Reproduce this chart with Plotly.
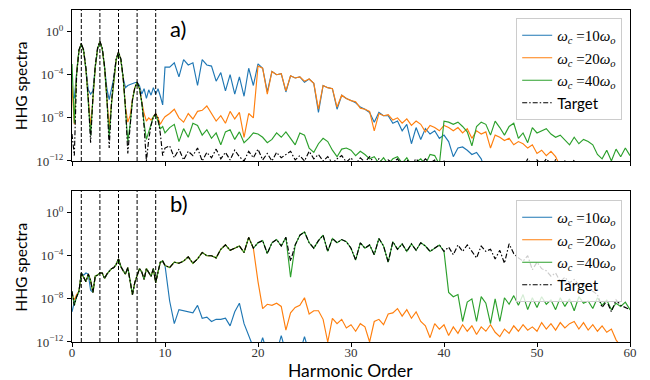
import numpy as np
import plotly.graph_objects as go
from plotly.subplots import make_subplots

# ---------------- harmonic-order sample grid ----------------
harm_fine = np.arange(0, 10.001, 0.25)      # 41 samples, 0 .. 10
harm_coarse = np.arange(10.5, 60.001, 0.5)  # 100 samples, 10.5 .. 60
harmonics = np.concatenate([harm_fine, harm_coarse])

# ---------------- panel a) : log10 of spectrum ----------------
a_w10_lo = [-6.0, -6.2, -3.8, -1.75, -1.1, -1.8, -3.5, -5.4, -5.8, -5.5,
            -3.3, -1.6, -0.9, -1.6, -3.3, -5.3, -6.3, -5.2, -4.3, -2.6,
            -1.9, -2.6, -4.3, -5.2, -5.0, -4.9, -4.8, -4.75, -4.7, -5.0,
            -5.8, -5.3, -6.2, -5.4, -5.9, -5.2, -5.8, -5.3, -6.0, -6.8,
            -3.3]
a_w10_hi = [-3.3, -2.9, -4.2, -2.6, -3.1, -2.9, -5.0, -2.6, -3.1, -3.2,
            -4.6, -3.8, -5.5, -4.0, -5.8, -4.2, -6.0, -3.4, -5.0, -3.0,
            -3.4, -5.6, -3.7, -4.0, -3.9, -5.6, -4.1, -4.3, -4.2, -4.7,
            -4.4, -4.8, -7.5, -5.0, -5.2, -5.3, -7.2, -5.9, -6.2, -6.4,
            -6.6, -7.0, -7.2, -7.5, -8.4, -7.5, -7.8, -7.8, -8.5, -8.3,
            -9.2, -8.6, -10.4, -8.9, -10.0, -9.0, -9.5, -9.2, -9.9, -9.6,
            -10.2, -11.6, -10.8, -10.7, -11.0, -11.4, -11.2, -11.8, -13, -13,
            -13, -13, -13, -13, -13, -13, -13, -13, -13, -13,
            -13, -13, -13, -13, -13, -13, -13, -13, -13, -13,
            -13, -13, -13, -13, -13, -13, -13, -13, -13, -13]

a_w20_lo = [-5.0, -8.6, -3.8, -1.75, -1.12, -1.8, -3.5, -6.5, -8.8, -6.3,
            -3.3, -1.6, -0.92, -1.6, -3.3, -6.2, -8.9, -6.6, -4.3, -2.6,
            -1.92, -2.6, -4.3, -7.0, -8.4, -7.8, -6.3, -5.2, -4.72, -5.3,
            -6.5, -7.6, -8.3, -8.0, -8.2, -7.9, -7.6, -8.0, -8.6, -8.2,
            -7.9]
a_w20_hi = [-7.6, -7.2, -8.0, -8.4, -7.6, -8.1, -7.4, -7.3, -6.9, -7.6,
            -8.3, -7.8, -8.5, -7.4, -8.1, -7.5, -9.8, -7.6, -8.0, -3.2,
            -3.4, -5.8, -3.7, -4.0, -3.9, -5.5, -4.1, -4.3, -4.2, -4.6,
            -4.4, -4.8, -7.2, -5.0, -5.2, -5.3, -7.0, -5.9, -6.2, -6.4,
            -6.5, -7.1, -7.2, -7.4, -9.2, -7.6, -7.8, -7.7, -8.2, -8.0,
            -8.5, -8.1, -8.7, -8.3, -8.6, -9.3, -8.7, -8.9, -9.2, -8.7,
            -8.9, -9.2, -8.9, -9.4, -9.0, -9.9, -9.2, -9.5, -9.3, -10.8,
            -9.6, -9.8, -10.1, -9.9, -10.5, -10.2, -10.4, -10.8, -10.5, -11.3,
            -11.0, -11.5, -11.1, -11.6, -12.5, -13, -13, -13, -13, -13,
            -13, -13, -13, -13, -13, -13, -13, -13, -13, -13]

a_w40_lo = [-3.0, -8.5, -3.8, -1.75, -1.15, -1.8, -3.5, -6.5, -9.6, -6.2,
            -3.3, -1.6, -0.95, -1.6, -3.3, -6.3, -9.8, -6.7, -4.3, -2.6,
            -1.95, -2.6, -4.3, -7.2, -10.2, -8.6, -6.4, -5.25, -4.75, -5.3,
            -6.6, -8.5, -10.0, -9.3, -8.6, -7.9, -7.7, -8.3, -9.0, -8.8,
            -9.4]
a_w40_hi = [-8.9, -8.6, -10.2, -9.0, -9.8, -8.5, -8.7, -9.6, -9.1, -9.9,
            -9.4, -10.5, -9.3, -9.1, -10.0, -9.3, -10.3, -9.9, -9.4, -9.5,
            -9.8, -10.3, -10.0, -9.4, -9.8, -9.3, -9.9, -10.5, -9.4, -9.6,
            -10.8, -11.2, -10.4, -9.9, -10.2, -11.0, -11.6, -10.9, -10.8, -11.0,
            -11.5, -11.1, -11.4, -11.8, -11.6, -12.2, -11.7, -12.3, -11.8, -11.6,
            -12.2, -11.7, -12.4, -12.1, -11.8, -12.3, -11.4, -11.5, -12.3, -8.3,
            -8.4, -8.6, -8.4, -8.8, -9.3, -10.6, -8.8, -8.4, -8.6, -9.6,
            -8.3, -8.9, -9.6, -8.8, -8.5, -9.9, -9.4, -10.3, -8.9, -9.4,
            -9.2, -9.0, -9.5, -9.8, -9.6, -10.1, -10.5, -9.8, -10.4, -10.0,
            -10.2, -10.5, -11.4, -11.8, -11.0, -12.0, -10.9, -11.6, -10.8, -11.5]

a_target_lo = [-9.5, -11.5, -4.0, -1.7, -1.1, -1.7, -3.4, -6.2, -10.3, -6.0,
               -3.2, -1.5, -0.9, -1.5, -3.2, -6.0, -10.8, -6.5, -4.2, -2.5,
               -1.9, -2.5, -4.2, -7.0, -11.3, -8.5, -6.3, -5.2, -4.7, -5.2,
               -6.5, -8.8, -12.0, -10.0, -8.7, -7.9, -7.6, -8.0, -9.5, -11.5,
               -10.8]
a_target_hi = [-10.6, -11.7, -10.9, -11.9, -11.1, -11.5, -10.8, -12.0, -11.2, -11.7,
               -10.9, -11.8, -11.2, -11.9, -11.0, -11.6, -12.0, -11.1, -11.7, -10.9,
               -11.9, -11.3, -12.0, -11.2, -11.7, -11.4, -11.1, -11.9, -11.5, -12.0,
               -11.1, -11.8, -11.4, -12.0, -11.6, -12.2, -11.8, -11.5, -12.1, -11.7,
               -12.3, -11.7, -12.1, -11.6, -12.2, -11.8, -12.3, -11.9, -12.2, -11.8,
               -12.4, -11.9, -12.3, -11.8, -12.3, -11.8, -12.2, -11.9, -12.4, -12.0,
               -12.5, -12.1, -12.5, -12.2, -12.6, -12.3, -12.6, -12.4, -12.6, -12.2,
               -12.6, -12.3, -12.7, -12.2, -12.6, -12.4, -12.7, -11.8, -12.5, -11.9,
               -12.4, -11.8, -12.3, -11.9, -12.5, -12.0, -12.6, -11.9, -12.6, -12.2,
               -12.7, -12.4, -12.8, -12.5, -12.8, -12.6, -12.9, -12.7, -12.9, -12.8]

# ---------------- panel b) : log10 of spectrum ----------------
b_w10_lo = [-9.2, -8.3, -7.8, -7.3, -5.6, -5.8, -5.6, -5.7, -7.2, -7.4,
            -5.9, -5.8, -5.6, -5.6, -6.1, -5.7, -5.4, -5.2, -5.1, -4.8,
            -4.3, -5.0, -5.4, -5.7, -5.1, -6.3, -7.6, -6.5, -5.8, -5.2,
            -5.5, -6.2, -5.2, -5.6, -5.9, -5.2, -6.5, -5.5, -4.6, -4.5,
            -4.9]
b_w10_hi = [-8.2, -10.3, -9.0, -9.1, -9.2, -9.3, -8.6, -9.8, -9.7, -10.1,
            -9.9, -9.9, -9.8, -10.5, -9.2, -8.4, -10.3, -11.3, -12.5, -13,
            -11.6, -13, -13, -13, -11.4, -13, -13, -13, -13, -11.5,
            -13, -13, -13, -13, -13, -13, -13, -13, -13, -13,
            -13, -13, -13, -13, -13, -13, -13, -13, -13, -13,
            -13, -13, -13, -13, -13, -13, -13, -13, -13, -13,
            -13, -13, -13, -13, -13, -13, -13, -13, -13, -13,
            -13, -13, -13, -13, -13, -13, -13, -13, -13, -13,
            -13, -13, -13, -13, -13, -13, -13, -13, -13, -13,
            -13, -13, -13, -13, -13, -13, -13, -13, -13, -13]

b_w20_lo = [-7.6, -8.1, -7.6, -7.3, -5.6, -6.0, -6.4, -5.7, -6.3, -7.4,
            -5.9, -5.8, -5.6, -5.6, -6.1, -5.7, -5.4, -5.2, -5.1, -4.8,
            -4.3, -5.0, -5.4, -5.7, -5.1, -6.3, -7.6, -6.5, -5.8, -5.2,
            -5.5, -6.2, -5.2, -5.6, -5.9, -5.2, -6.5, -5.5, -4.6, -4.5,
            -4.9]
b_w20_hi = [-5.1, -4.6, -4.7, -4.5, -4.1, -4.7, -4.3, -3.7, -4.0, -4.0,
            -4.2, -3.4, -3.0, -3.5, -3.3, -3.1, -3.7, -2.3, -3.3, -6.4,
            -8.9, -8.5, -8.6, -8.4, -8.7, -10.9, -9.3, -8.8, -8.6, -7.9,
            -9.4, -9.1, -9.1, -9.9, -12.0, -9.8, -10.3, -9.9, -10.7, -10.4,
            -11.0, -10.3, -10.6, -12.0, -10.1, -9.9, -10.4, -9.4, -9.3, -8.9,
            -9.6, -9.0, -9.8, -9.2, -10.1, -10.5, -11.6, -10.3, -10.8, -10.4,
            -11.4, -10.6, -11.2, -10.4, -11.0, -10.5, -11.3, -10.6, -11.0, -10.4,
            -11.1, -11.5, -10.8, -11.2, -10.5, -11.0, -10.4, -10.9, -10.6, -11.0,
            -10.2, -10.8, -10.3, -10.9, -10.2, -10.7, -10.3, -10.1, -10.8, -10.2,
            -10.9, -10.4, -11.0, -10.5, -11.1, -10.8, -11.8, -12.5, -13, -13]

b_w40_lo = [-7.3, -8.6, -7.8, -7.3, -5.6, -6.0, -6.4, -5.7, -6.3, -7.4,
            -5.9, -5.8, -5.6, -5.6, -6.1, -5.7, -5.4, -5.2, -5.1, -4.8,
            -4.3, -5.0, -5.4, -5.7, -5.1, -6.3, -7.6, -6.5, -5.8, -5.2,
            -5.5, -6.2, -5.2, -5.6, -5.9, -5.2, -6.5, -5.5, -4.6, -4.5,
            -4.9]
b_w40_hi = [-5.1, -4.6, -4.7, -4.5, -4.1, -4.7, -4.3, -3.7, -4.0, -4.0,
            -4.2, -3.4, -3.0, -3.5, -3.3, -3.1, -3.7, -2.3, -3.3, -2.8,
            -2.6, -3.8, -2.8, -2.5, -3.1, -2.3, -6.0, -3.0, -2.1, -1.8,
            -2.8, -3.3, -2.6, -2.1, -3.6, -2.4, -2.8, -2.5, -2.7, -3.3,
            -4.4, -2.8, -3.3, -3.0, -3.9, -2.4, -3.1, -4.6, -2.7, -3.4,
            -2.9, -3.6, -2.9, -3.5, -2.8, -3.1, -3.6, -3.3, -3.0, -3.6,
            -7.4, -7.8, -7.6, -10.1, -8.3, -8.0, -10.1, -7.8, -8.4, -10.3,
            -8.0, -10.1, -7.9, -8.5, -7.7, -8.6, -7.6, -9.0, -7.9, -8.8,
            -7.8, -8.5, -8.1, -9.0, -7.9, -8.7, -8.0, -9.1, -7.8, -8.4,
            -8.2, -8.9, -7.9, -8.6, -8.1, -9.0, -8.4, -8.7, -8.3, -9.0]

b_target_lo = [-7.3, -8.6, -7.8, -7.3, -5.6, -6.0, -6.4, -5.7, -6.3, -7.4,
               -5.9, -5.8, -5.6, -5.6, -6.1, -5.7, -5.4, -5.2, -5.1, -4.8,
               -4.3, -5.0, -5.4, -5.7, -5.1, -6.3, -7.6, -6.5, -5.8, -5.2,
               -5.5, -6.2, -5.2, -5.6, -5.9, -5.2, -6.5, -5.5, -4.6, -4.5,
               -4.9]
b_target_hi = [-5.1, -4.6, -4.7, -4.5, -4.1, -4.7, -4.3, -3.7, -4.0, -4.0,
               -4.2, -3.4, -3.0, -3.5, -3.3, -3.1, -3.7, -2.3, -3.3, -2.8,
               -2.6, -3.8, -2.8, -2.5, -3.1, -2.3, -4.5, -3.0, -2.1, -1.8,
               -2.8, -3.3, -2.6, -2.1, -3.6, -2.4, -2.8, -2.5, -2.7, -3.3,
               -4.4, -2.8, -3.3, -3.0, -3.9, -2.4, -3.1, -4.6, -2.7, -3.4,
               -2.9, -3.6, -2.9, -3.5, -2.8, -3.1, -3.6, -3.3, -3.0, -3.6,
               -3.2, -3.9, -3.0, -3.6, -3.0, -3.6, -4.2, -3.1, -3.6, -3.4,
               -4.3, -3.5, -4.7, -2.9, -3.8, -4.2, -4.5, -4.0, -5.3, -4.6,
               -5.2, -5.4, -5.9, -5.6, -6.4, -6.0, -6.5, -6.2, -6.7, -6.6,
               -7.2, -7.3, -7.6, -8.8, -8.2, -9.2, -8.1, -8.6, -8.8, -9.0]

harmonic_markers = [1, 3, 5, 7, 9]
series_names = ["w10", "w20", "w40", "target"]
MATH = "font-family:'Liberation Serif','DejaVu Serif',serif"
def wc_label(n):
    return (f"<span style=\"{MATH}\"><i>ω</i><sub><i>c</i></sub> ={n}"
            f"<i>ω</i><sub><i>o</i></sub></span>")
labels = {"w10": wc_label(10), "w20": wc_label(20), "w40": wc_label(40), "target": "Target"}
colors = {"w10": "#1f77b4", "w20": "#ff7f0e", "w40": "#2ca02c", "target": "black"}

panel_a = {"w10": (a_w10_lo, a_w10_hi), "w20": (a_w20_lo, a_w20_hi),
           "w40": (a_w40_lo, a_w40_hi), "target": (a_target_lo, a_target_hi)}
panel_b = {"w10": (b_w10_lo, b_w10_hi), "w20": (b_w20_lo, b_w20_hi),
           "w40": (b_w40_lo, b_w40_hi), "target": (b_target_lo, b_target_hi)}

fig = make_subplots(rows=2, cols=1)

for row, panel, leg in [(1, panel_a, "legend"), (2, panel_b, "legend2")]:
    for name in series_names:
        lo, hi = panel[name]
        logv = np.array(list(lo) + list(hi), dtype=float)
        line = dict(color=colors[name], width=1.15)
        if name == "target":
            line["dash"] = "5px,2px,1.5px,2px"
        fig.add_trace(go.Scatter(x=harmonics, y=10 ** logv, mode="lines",
                                 line=line, name=labels[name], legend=leg),
                      row=row, col=1)

SERIF = "Liberation Serif, DejaVu Serif, serif"
SANS = "Lato, Liberation Sans, sans-serif"

ytv = [1e-12, 1e-8, 1e-4, 1]
ytt = ["10<sup>−12</sup>", "10<sup>−8</sup>", "10<sup>−4</sup>", "10<sup>0</sup>"]

for r, dom in [(1, [0.5452, 1.0]), (2, [0.0, 0.4548])]:
    fig.update_yaxes(type="log", range=[-12, 2], domain=dom, tickvals=ytv, ticktext=ytt,
                     ticks="outside", ticklen=4, tickcolor="black", showline=True,
                     linecolor="black", linewidth=1, mirror=True, showgrid=False,
                     zeroline=False, automargin=False, ticklabelstandoff=1,
                     tickfont=dict(family=SERIF, size=13, color="#333"),
                     row=r, col=1)
    fig.update_xaxes(range=[0, 60], dtick=10, tick0=0, ticks="outside", ticklen=4,
                     tickcolor="black", showline=True, linecolor="black", linewidth=1,
                     mirror=True, showgrid=False, zeroline=False, automargin=False,
                     ticklabelstandoff=-6,
                     tickfont=dict(family=SERIF, size=13, color="#333"),
                     showticklabels=(r == 2), row=r, col=1)

for xr, yr in [("x", "y domain"), ("x2", "y2 domain")]:
    for h in harmonic_markers:
        fig.add_shape(type="line", xref=xr, yref=yr, x0=h, x1=h, y0=0, y1=1,
                      line=dict(color="black", width=1, dash="4px,2px"))

# axis titles
for yc in [0.773, 0.227]:
    fig.add_annotation(text="HHG spectra", xref="paper", yref="paper", x=-0.0914, y=yc,
                       textangle=-90, showarrow=False, xanchor="center", yanchor="middle",
                       font=dict(family=SANS, size=15.5, color="black"))
fig.add_annotation(text="Harmonic Order", xref="paper", yref="paper", x=0.499, y=-0.086,
                   showarrow=False, xanchor="center", yanchor="middle",
                   font=dict(family=SANS, size=17.5, color="black"))

fig.add_annotation(text="a)", xref="paper", yref="paper", x=0.172, y=0.944,
                   xanchor="left", yanchor="middle", showarrow=False,
                   font=dict(family=SANS, size=22, color="black"))
fig.add_annotation(text="b)", xref="paper", yref="paper", x=0.172, y=0.4157,
                   xanchor="left", yanchor="middle", showarrow=False,
                   font=dict(family=SANS, size=22, color="black"))

legend_style = dict(xanchor="right", yanchor="top", bgcolor="rgba(255,255,255,0.8)",
                    bordercolor="#cccccc", borderwidth=1, itemwidth=30,
                    font=dict(family=SANS, size=15, color="black"),
                    tracegroupgap=0)

fig.update_layout(
    width=650, height=380,
    margin=dict(l=72, r=20, t=10, b=38, autoexpand=False),
    paper_bgcolor="white", plot_bgcolor="white",
    legend=dict(x=0.986, y=0.976, **legend_style),
    legend2=dict(x=0.986, y=0.4277, **legend_style),
    showlegend=True,
)

fig.write_html("out.html", config={"displayModeBar": False},
               post_script="document.body.style.margin='0';document.body.style.padding='0';")
